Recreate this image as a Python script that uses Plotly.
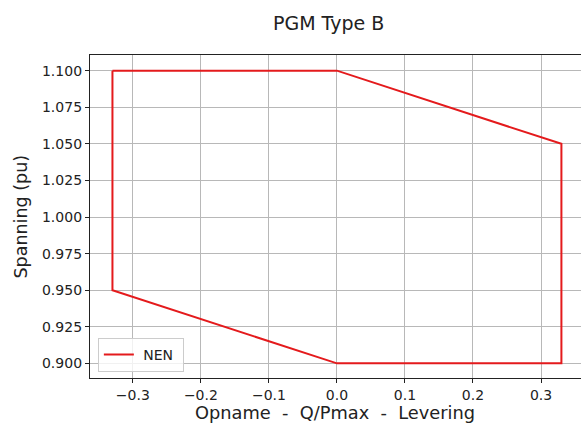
import plotly.graph_objects as go

# Data: capability curve (Q/Pmax vs voltage pu)
q_pmax = [-0.33, 0.0, 0.33, 0.33, 0.0, -0.33, -0.33]
spanning = [1.100, 1.100, 1.050, 0.900, 0.900, 0.950, 1.100]
series_name = "NEN"

x_ticks = [-0.3, -0.2, -0.1, 0.0, 0.1, 0.2, 0.3]
x_tick_labels = ["\u22120.3", "\u22120.2", "\u22120.1", "0.0", "0.1", "0.2", "0.3"]
y_ticks = [0.900, 0.925, 0.950, 0.975, 1.000, 1.025, 1.050, 1.075, 1.100]
y_tick_labels = ["0.900", "0.925", "0.950", "0.975", "1.000", "1.025", "1.050", "1.075", "1.100"]

W, H = 581, 425
L, R, T, B = 90, 0, 55, 47
FONT = "DejaVu Sans"
TXT = "#222222"

fig = go.Figure()
fig.add_trace(go.Scatter(
    x=q_pmax, y=spanning, mode="lines", name="\u00a0" + series_name + "\u00a0",
    line=dict(color="#e41a1c", width=2),
))

fig.update_layout(
    width=W, height=H,
    margin=dict(l=L, r=R, t=T, b=B, pad=0),
    paper_bgcolor="white", plot_bgcolor="white",
    font=dict(family=FONT, size=14, color=TXT),
    showlegend=True,
    legend=dict(
        x=0.016, y=0.019, xanchor="left", yanchor="bottom",
        bgcolor="rgba(255,255,255,0.8)", bordercolor="#cccccc", borderwidth=1,
        font=dict(family=FONT, size=14, color=TXT),
        itemwidth=30, tracegroupgap=0,
    ),
    annotations=[
        dict(text="PGM Type B", xref="paper", yref="paper",
             x=(328 - L) / (W - L - R), y=1 + (T - 23) / (H - T - B),
             xanchor="center", yanchor="middle", showarrow=False,
             font=dict(family=FONT, size=19, color=TXT)),
        dict(text="Opname\u00a0\u00a0-\u00a0\u00a0Q/Pmax\u00a0\u00a0-\u00a0\u00a0Levering",
             xref="paper", yref="paper",
             x=(335 - L) / (W - L - R), y=-(412.5 - (H - B)) / (H - T - B),
             xanchor="center", yanchor="middle", showarrow=False,
             font=dict(family=FONT, size=17.8, color=TXT)),
        dict(text="Spanning (pu)", xref="paper", yref="paper",
             x=-(L - 20) / (W - L - R), y=0.5, textangle=-90,
             xanchor="center", yanchor="middle", showarrow=False,
             font=dict(family=FONT, size=17.5, color=TXT)),
    ],
)

fig.update_xaxes(
    range=[-0.363, 0.3588],
    tickmode="array", tickvals=x_ticks, ticktext=x_tick_labels,
    showgrid=True, gridcolor="#b8b8b8", gridwidth=1,
    zeroline=False,
    showline=True, linecolor="#222222", linewidth=1.3, mirror=True,
    ticks="outside", ticklen=4, tickcolor="#222222", tickwidth=1,
    tickfont=dict(family=FONT, size=14, color=TXT),
)
fig.update_yaxes(
    range=[0.89, 1.1107],
    tickmode="array", tickvals=y_ticks, ticktext=y_tick_labels,
    showgrid=True, gridcolor="#b8b8b8", gridwidth=1,
    zeroline=False,
    showline=True, linecolor="#222222", linewidth=1.3, mirror=False,
    ticks="outside", ticklen=4, tickcolor="#222222", tickwidth=1,
    tickfont=dict(family=FONT, size=14, color=TXT),
)

fig.write_html("out.html")
